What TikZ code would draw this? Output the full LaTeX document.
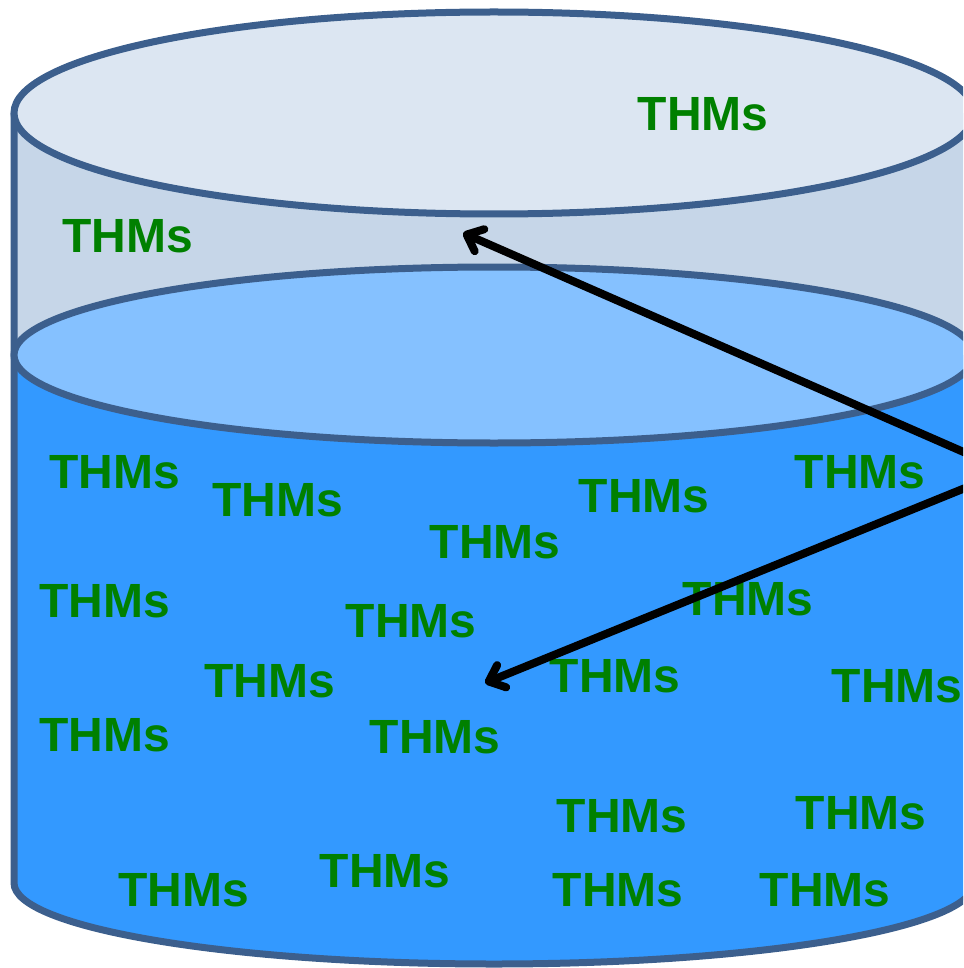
\documentclass[tikz,border=0pt]{standalone}
\usepackage{fontspec}
\setmainfont{Liberation Sans}
\usetikzlibrary{arrows.meta}
\definecolor{rim}{HTML}{3C5F8D}
\definecolor{topfill}{HTML}{DCE6F2}
\definecolor{airfill}{HTML}{C6D6E8}
\definecolor{watertop}{HTML}{85C1FF}
\definecolor{waterbody}{HTML}{3399FF}
\definecolor{thmgreen}{HTML}{008000}
\tikzset{
  rimline/.style={draw=rim, line width=7pt},
  thm/.style={text=thmgreen, font=\fontsize{48}{56}\selectfont\bfseries, inner sep=0pt, anchor=base},
  flow/.style={draw=black, line width=8pt, -{Straight Barb[length=14pt,width=24pt,line cap=round,line join=round]}}
}
\begin{document}
\begin{tikzpicture}[x=1pt,y=-1pt]
\useasboundingbox (0,0) rectangle (963,968);
\clip (0,0) rectangle (963,968);
% water body
\fill[waterbody] (14,355) -- (14,883) arc[start angle=180,end angle=0,x radius=480,y radius=81] -- (974,355) -- cycle;
% air section
\fill[airfill] (14,113) rectangle (974,355);
% side lines and bottom
\draw[rimline] (14,113) -- (14,883) arc[start angle=180,end angle=0,x radius=480,y radius=81] -- (974,113);
% water surface
\draw[rimline, fill=watertop] (494,355) ellipse [x radius=480, y radius=88];
% top
\draw[rimline, fill=topfill] (494,113) ellipse [x radius=480, y radius=101];
% texts
\node[thm] (t1) at (703,131) {THMs};
\node[thm] (t2) at (128,252) {THMs};
\node[thm] (t3) at (115,488) {THMs};
\node[thm] (t4) at (278,516) {THMs};
\node[thm] (t5) at (644,512) {THMs};
\node[thm] (t6) at (860,488) {THMs};
\node[thm] (t7) at (495,558) {THMs};
\node[thm] (t8) at (105,617) {THMs};
\node[thm] (t9) at (411,637) {THMs};
\node[thm] (t10) at (748,615) {THMs};
\node[thm] (t11) at (270,697) {THMs};
\node[thm] (t12) at (615,692) {THMs};
\node[thm] (t13) at (897,702) {THMs};
\node[thm] (t14) at (105,751) {THMs};
\node[thm] (t15) at (435,753) {THMs};
\node[thm] (t16) at (622,832) {THMs};
\node[thm] (t17) at (861,829) {THMs};
\node[thm] (t18) at (385,887) {THMs};
\node[thm] (t19) at (184,906) {THMs};
\node[thm] (t20) at (618,906) {THMs};
\node[thm] (t21) at (825,906) {THMs};
% arrows
\coordinate (src) at (1007,471);
\coordinate (airpt) at (463,233);
\coordinate (waterpt) at (485,683);
\draw[flow] (src) -- (airpt);
\draw[flow] (src) -- (waterpt);
\end{tikzpicture}
\end{document}
